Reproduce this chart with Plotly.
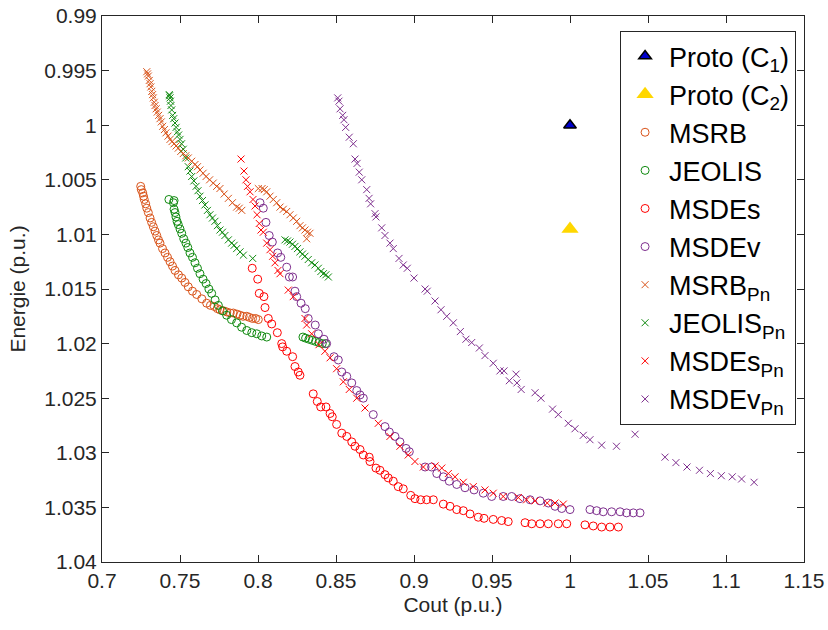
import plotly.graph_objects as go

# Prototypes
proto_c1_x = [1.0]
proto_c1_y = [1.0]
proto_c2_x = [1.0]
proto_c2_y = [1.0095]

# MSRB (circles)
msrb_x = [0.7248, 0.7252, 0.7261, 0.7266, 0.7271, 0.7280, 0.7287, 0.7297, 0.7308, 0.7318,
          0.7329, 0.7340, 0.7351, 0.7362, 0.7372, 0.7388, 0.7404, 0.7420, 0.7436, 0.7452,
          0.7468, 0.7490, 0.7511, 0.7532, 0.7553, 0.7580, 0.7607, 0.7640, 0.7671, 0.7695,
          0.7720, 0.7740, 0.7756, 0.7780, 0.7800, 0.7822, 0.7842, 0.7865, 0.7885, 0.7905,
          0.7928, 0.7945, 0.7965, 0.7985, 0.8002]
msrb_y = [1.0056, 1.0059, 1.0062, 1.0065, 1.0068, 1.0072, 1.0076, 1.0080, 1.0085, 1.0089,
          1.0093, 1.0097, 1.0101, 1.0105, 1.0108, 1.0113, 1.0117, 1.0121, 1.0125, 1.0129,
          1.0133, 1.0137, 1.0140, 1.0144, 1.0148, 1.0152, 1.0155, 1.0159, 1.0163, 1.0165,
          1.0166, 1.0168, 1.0169, 1.0170, 1.0171, 1.0172, 1.0172, 1.0173, 1.0174, 1.0175,
          1.0175, 1.0176, 1.0177, 1.0177, 1.0178]

# JEOLIS (circles)
jeolis_x = [0.7429, 0.7462, 0.7458, 0.7462, 0.7468, 0.7474, 0.7481, 0.7489, 0.7500, 0.7511,
            0.7524, 0.7538, 0.7550, 0.7564, 0.7580, 0.7596, 0.7612, 0.7628, 0.7648, 0.7667,
            0.7685, 0.7703, 0.7725, 0.7746, 0.7772, 0.7799, 0.7830, 0.7863, 0.7895, 0.7928,
            0.7960, 0.7992, 0.8024, 0.8056,
            0.8288, 0.8305, 0.8326, 0.8348, 0.8369, 0.8390, 0.8412, 0.8433]
jeolis_y = [1.0068, 1.0069, 1.0071, 1.0077, 1.0080, 1.0084, 1.0088, 1.0091, 1.0095, 1.0099,
            1.0104, 1.0108, 1.0112, 1.0117, 1.0121, 1.0126, 1.0131, 1.0136, 1.0141, 1.0145,
            1.0150, 1.0154, 1.0160, 1.0165, 1.0170, 1.0174, 1.0178, 1.0181, 1.0185, 1.0188,
            1.0190, 1.0191, 1.0193, 1.0194,
            1.0194, 1.0195, 1.0196, 1.0197, 1.0198, 1.0199, 1.0200, 1.0200]

# MSDEs (circles)
msdes_x = [0.7963, 0.7998, 0.8008, 0.8038, 0.8045, 0.8066, 0.8088, 0.8124, 0.8152, 0.8158,
           0.8184, 0.8222, 0.8237, 0.8258, 0.8269, 0.8354, 0.8380, 0.8402, 0.8436, 0.8462,
           0.8476, 0.8504, 0.8537, 0.8569, 0.8601, 0.8622, 0.8654, 0.8675, 0.8713, 0.8718,
           0.8756, 0.8782, 0.8814, 0.8835, 0.8867, 0.8899, 0.8931, 0.8979, 0.9006, 0.9043,
           0.9081, 0.9124, 0.9188, 0.9231, 0.9274, 0.9316, 0.9359, 0.9412, 0.9449, 0.9508,
           0.9562, 0.9604, 0.9712, 0.9755, 0.9808, 0.9861, 0.9925, 0.9979, 1.0096, 1.0149,
           1.0203, 1.0256, 1.0310]
msdes_y = [1.0131, 1.0141, 1.0154, 1.0157, 1.0167, 1.0177, 1.0182, 1.0190, 1.0200, 1.0203,
           1.0207, 1.0212, 1.0221, 1.0226, 1.0229, 1.0246, 1.0253, 1.0258, 1.0258, 1.0264,
           1.0267, 1.0274, 1.0282, 1.0285, 1.0290, 1.0294, 1.0297, 1.0302, 1.0304, 1.0308,
           1.0314, 1.0316, 1.0320, 1.0323, 1.0326, 1.0331, 1.0333, 1.0339, 1.0342, 1.0343,
           1.0343, 1.0343, 1.0347, 1.0349, 1.0352, 1.0353, 1.0356, 1.0359, 1.0360, 1.0361,
           1.0362, 1.0363, 1.0364, 1.0365, 1.0365, 1.0365, 1.0365, 1.0365, 1.0366, 1.0367,
           1.0368, 1.0368, 1.0368]

# MSDEv (circles)
msdev_x = [0.8013, 0.8034, 0.8051, 0.8072, 0.8092, 0.8126, 0.8146, 0.8184, 0.8201, 0.8222,
           0.8237, 0.8248, 0.8276, 0.8303, 0.8322, 0.8367, 0.8387, 0.8423, 0.8440, 0.8487,
           0.8515, 0.8537, 0.8569, 0.8601, 0.8633, 0.8654, 0.8675, 0.8739, 0.8814, 0.8842,
           0.8878, 0.8910, 0.8949, 0.8970, 0.9071, 0.9113, 0.9146, 0.9188, 0.9226, 0.9274,
           0.9327, 0.9385, 0.9444, 0.9498, 0.9572, 0.9626, 0.9679, 0.9744, 0.9808, 0.9861,
           0.9904, 0.9947, 1.0000, 1.0128, 1.0171, 1.0213, 1.0267, 1.0321, 1.0363, 1.0406,
           1.0449]
msdev_y = [1.0071, 1.0076, 1.0089, 1.0101, 1.0107, 1.0117, 1.0121, 1.0130, 1.0139, 1.0139,
           1.0152, 1.0157, 1.0163, 1.0168, 1.0177, 1.0183, 1.0191, 1.0196, 1.0200, 1.0212,
           1.0215, 1.0226, 1.0230, 1.0236, 1.0243, 1.0247, 1.0250, 1.0265, 1.0276, 1.0281,
           1.0285, 1.0290, 1.0296, 1.0299, 1.0313, 1.0313, 1.0319, 1.0322, 1.0326, 1.0329,
           1.0332, 1.0334, 1.0337, 1.0340, 1.0340, 1.0340, 1.0342, 1.0343, 1.0344, 1.0346,
           1.0349, 1.0351, 1.0352, 1.0352, 1.0353, 1.0354, 1.0354, 1.0354, 1.0355, 1.0355,
           1.0355]

# MSRB_Pn (crosses)
msrb_pn_x = [0.7287, 0.7292, 0.7297, 0.7303, 0.7308, 0.7313, 0.7319, 0.7324, 0.7329, 0.7335,
             0.7340, 0.7347, 0.7354, 0.7363, 0.7372, 0.7380, 0.7389, 0.7400, 0.7410, 0.7423,
             0.7436, 0.7449, 0.7462, 0.7475, 0.7489, 0.7505, 0.7521, 0.7537, 0.7553, 0.7575,
             0.7596, 0.7612, 0.7628, 0.7648, 0.7667, 0.7690, 0.7713, 0.7735, 0.7756, 0.7783,
             0.7810, 0.7836, 0.7863, 0.7880, 0.7896,
             0.8002, 0.8026, 0.8040, 0.8056, 0.8077, 0.8098, 0.8120, 0.8141, 0.8162, 0.8184,
             0.8205, 0.8226, 0.8248, 0.8269, 0.8285, 0.8301, 0.8317, 0.8333, 0.8312]
msrb_pn_y = [0.9951, 0.9953, 0.9955, 0.9959, 0.9962, 0.9965, 0.9969, 0.9972, 0.9975, 0.9979,
             0.9982, 0.9985, 0.9988, 0.9991, 0.9994, 0.9997, 1.0001, 1.0004, 1.0007, 1.0010,
             1.0013, 1.0015, 1.0017, 1.0019, 1.0021, 1.0024, 1.0026, 1.0028, 1.0030, 1.0033,
             1.0036, 1.0038, 1.0041, 1.0044, 1.0047, 1.0050, 1.0053, 1.0056, 1.0058, 1.0063,
             1.0067, 1.0071, 1.0075, 1.0076, 1.0078,
             1.0058, 1.0058, 1.0059, 1.0061, 1.0065, 1.0068, 1.0071, 1.0075, 1.0077, 1.0079,
             1.0082, 1.0085, 1.0088, 1.0092, 1.0094, 1.0096, 1.0098, 1.0099, 1.0104]

# JEOLIS_Pn (crosses)
jeolis_pn_x = [0.7431, 0.7433, 0.7436, 0.7439, 0.7442, 0.7447, 0.7453, 0.7460, 0.7468, 0.7475,
               0.7483, 0.7491, 0.7500, 0.7510, 0.7521, 0.7537, 0.7553, 0.7564, 0.7575, 0.7589,
               0.7603, 0.7615, 0.7628, 0.7644, 0.7660, 0.7676, 0.7692, 0.7708, 0.7724, 0.7740,
               0.7756, 0.7772, 0.7788, 0.7810, 0.7831, 0.7847, 0.7863, 0.7885, 0.7906,
               0.7966,
               0.8173, 0.8189, 0.8205, 0.8221, 0.8237, 0.8253, 0.8269, 0.8285, 0.8301, 0.8322,
               0.8344, 0.8365, 0.8387, 0.8403, 0.8419, 0.8435, 0.8451]
jeolis_pn_y = [0.9972, 0.9973, 0.9975, 0.9978, 0.9982, 0.9986, 0.9991, 0.9994, 0.9998, 1.0002,
               1.0006, 1.0009, 1.0013, 1.0017, 1.0022, 1.0030, 1.0038, 1.0042, 1.0047, 1.0051,
               1.0056, 1.0060, 1.0065, 1.0069, 1.0073, 1.0078, 1.0082, 1.0085, 1.0088, 1.0092,
               1.0096, 1.0098, 1.0101, 1.0105, 1.0108, 1.0110, 1.0113, 1.0116, 1.0119,
               1.0122,
               1.0105, 1.0106, 1.0107, 1.0109, 1.0111, 1.0113, 1.0116, 1.0118, 1.0120, 1.0123,
               1.0126, 1.0128, 1.0131, 1.0134, 1.0136, 1.0137, 1.0139]

# MSDEs_Pn (crosses)
msdes_pn_x = [0.7891, 0.7910, 0.7923, 0.7933, 0.7949, 0.7968, 0.7981, 0.7994, 0.8008, 0.8019,
              0.8034, 0.8056, 0.8077, 0.8094, 0.8109, 0.8128, 0.8141, 0.8194, 0.8226, 0.8301,
              0.8312, 0.8344, 0.8391, 0.8429, 0.8462, 0.8504, 0.8547, 0.8585, 0.8633, 0.8686,
              0.8771, 0.8846, 0.8910, 0.8963, 0.9006, 0.9060, 0.9135, 0.9178, 0.9220, 0.9263,
              0.9316, 0.9380, 0.9455, 0.9508, 0.9572, 0.9669, 0.9722, 0.9776, 0.9854, 0.9904,
              0.9957]
msdes_pn_y = [1.0031, 1.0042, 1.0050, 1.0056, 1.0061, 1.0068, 1.0074, 1.0082, 1.0090, 1.0096,
              1.0098, 1.0108, 1.0114, 1.0120, 1.0126, 1.0133, 1.0136, 1.0151, 1.0157, 1.0177,
              1.0183, 1.0191, 1.0201, 1.0207, 1.0213, 1.0223, 1.0235, 1.0242, 1.0250, 1.0259,
              1.0273, 1.0285, 1.0294, 1.0302, 1.0308, 1.0313, 1.0312, 1.0314, 1.0319, 1.0322,
              1.0327, 1.0331, 1.0334, 1.0337, 1.0340, 1.0341, 1.0343, 1.0344, 1.0346, 1.0346,
              1.0347]

# MSDEv_Pn (crosses)
msdev_pn_x = [0.8511, 0.8519, 0.8526, 0.8543, 0.8551, 0.8562, 0.8585, 0.8611, 0.8622, 0.8635,
              0.8649, 0.8665, 0.8697, 0.8712, 0.8722, 0.8750, 0.8756, 0.8793, 0.8814, 0.8846,
              0.8867, 0.8904, 0.8931, 0.8957, 0.9000, 0.9071, 0.9085, 0.9135, 0.9173, 0.9210,
              0.9252, 0.9297, 0.9333, 0.9370, 0.9419, 0.9455, 0.9508, 0.9551, 0.9577, 0.9611,
              0.9654, 0.9660, 0.9687, 0.9776, 0.9814, 0.9888, 0.9925, 0.9989, 1.0032, 1.0085,
              1.0128, 1.0203, 1.0298, 1.0417, 1.0609, 1.0679, 1.0750, 1.0830, 1.0900, 1.0970,
              1.1040, 1.1100, 1.1180]
msdev_pn_y = [0.9975, 0.9978, 0.9985, 0.9991, 0.9995, 1.0002, 1.0011, 1.0017, 1.0031, 1.0035,
              1.0043, 1.0050, 1.0059, 1.0067, 1.0072, 1.0081, 1.0084, 1.0094, 1.0101, 1.0108,
              1.0113, 1.0122, 1.0128, 1.0131, 1.0140, 1.0150, 1.0152, 1.0161, 1.0169, 1.0175,
              1.0181, 1.0189, 1.0196, 1.0199, 1.0204, 1.0211, 1.0218, 1.0225, 1.0225, 1.0234,
              1.0228, 1.0236, 1.0242, 1.0245, 1.0250, 1.0260, 1.0265, 1.0273, 1.0278, 1.0284,
              1.0288, 1.0293, 1.0294, 1.0283, 1.0304, 1.0309, 1.0313, 1.0316, 1.0319, 1.0321,
              1.0322, 1.0324, 1.0327]

y_ticks = [0.99, 0.995, 1.0, 1.005, 1.01, 1.015, 1.02, 1.025, 1.03, 1.035, 1.04]
y_ticktext = ["0.99", "0.995", "1", "1.005", "1.01", "1.015", "1.02", "1.025", "1.03", "1.035", "1.04"]
x_ticks = [0.7, 0.75, 0.8, 0.85, 0.9, 0.95, 1.0, 1.05, 1.1, 1.15]
x_ticktext = ["0.7", "0.75", "0.8", "0.85", "0.9", "0.95", "1", "1.05", "1.1", "1.15"]

orange = '#D95319'
green = '#108A10'
red = '#FF0000'
purple = '#7E2F8E'

fig = go.Figure()

fig.add_trace(go.Scatter(x=proto_c1_x, y=proto_c1_y, mode='markers', name='Proto (C<sub>1</sub>)',
                         marker=dict(symbol='triangle-up', size=11, color='#0000CC',
                                     line=dict(color='black', width=1.5))))
fig.add_trace(go.Scatter(x=proto_c2_x, y=proto_c2_y, mode='markers', name='Proto (C<sub>2</sub>)',
                         marker=dict(symbol='triangle-up', size=15, color='#FFD700',
                                     line=dict(color='#FFD700', width=0))))

circle_series = [
    ('MSRB', msrb_x, msrb_y, orange),
    ('JEOLIS', jeolis_x, jeolis_y, green),
    ('MSDEs', msdes_x, msdes_y, red),
    ('MSDEv', msdev_x, msdev_y, purple),
]
for name, xs, ys, col in circle_series:
    fig.add_trace(go.Scatter(x=xs, y=ys, mode='markers', name=name,
                             marker=dict(symbol='circle-open', size=8, color=col,
                                         line=dict(width=1, color=col))))

cross_series = [
    ('MSRB<sub>Pn</sub>', msrb_pn_x, msrb_pn_y, orange),
    ('JEOLIS<sub>Pn</sub>', jeolis_pn_x, jeolis_pn_y, green),
    ('MSDEs<sub>Pn</sub>', msdes_pn_x, msdes_pn_y, red),
    ('MSDEv<sub>Pn</sub>', msdev_pn_x, msdev_pn_y, purple),
]
for name, xs, ys, col in cross_series:
    fig.add_trace(go.Scatter(x=xs, y=ys, mode='markers', name=name,
                             marker=dict(symbol='x-thin-open', size=7, color=col,
                                         line=dict(width=1, color=col))))

axis_common = dict(showline=True, linecolor='#262626', linewidth=1, mirror='ticks',
                   ticks='inside', ticklen=7, tickcolor='#262626', showgrid=False,
                   zeroline=False, automargin=False, tickfont=dict(size=21, color='#262626'))

fig.update_layout(
    width=828, height=630,
    margin=dict(l=102, r=24, t=16, b=68),
    plot_bgcolor='white', paper_bgcolor='white',
    font=dict(family='Liberation Sans, Arial, sans-serif', color='#262626'),
    xaxis=dict(range=[0.7, 1.15], tickvals=x_ticks, ticktext=x_ticktext,
               title=dict(text='Cout (p.u.)', font=dict(size=21), standoff=6), **axis_common),
    yaxis=dict(range=[1.04, 0.99], tickvals=y_ticks, ticktext=y_ticktext,
               title=dict(text='Energie (p.u.)', font=dict(size=21), standoff=12), **axis_common),
    legend=dict(x=0.738, y=0.9725, xanchor='left', yanchor='top',
                bgcolor='white', bordercolor='#262626', borderwidth=1,
                itemwidth=38, font=dict(size=27, color='black')),
)

# page body has a default margin; drop it so the figure sits at the window corner
fig.write_html("out.html", config={'displayModeBar': False},
               post_script="document.body.style.margin='0';")
